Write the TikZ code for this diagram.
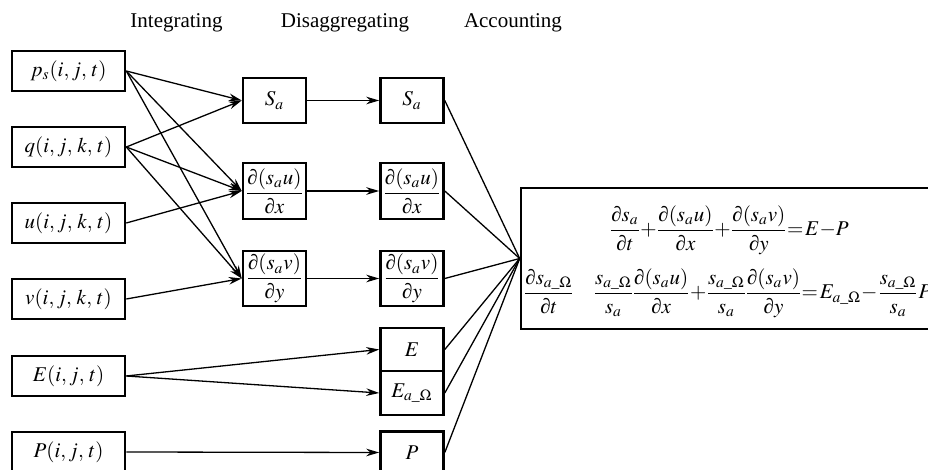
\documentclass[tikz,border=0pt]{standalone}
\usepackage{amsmath}
\usepackage{mathptmx}
\usepackage[no-math]{fontspec}
\setmainfont{Liberation Serif}
\usetikzlibrary{arrows.meta}
\newcommand{\tightsp}{\medmuskip=1.5mu\relax\thickmuskip=1.5mu\relax\nulldelimiterspace=0pt\relax}
\newcommand{\pd}{\mathord{\text{∂}}}
\begin{document}
\begin{tikzpicture}[x=0.5pt,y=-0.5pt,
  every node/.style={font=\fontsize{10.5}{12}\selectfont, inner sep=0pt},
  box/.style={draw, line width=1.3pt},
  lbox/.style={box, minimum width=56.5pt, minimum height=20pt},
  cbox/.style={box, minimum width=31.5pt},
  arr/.style={line width=0.65pt, -{Stealth[length=6.5pt,width=3.8pt]}},
  ln/.style={line width=0.65pt},
  hdr/.style={anchor=base}]
\useasboundingbox (0,0) rectangle (928,470);
\begin{scope}
\clip (0,0) rectangle (928,470);
% headers
\node[hdr] (h1) at (176.5,28) {Integrating};
\node[hdr] (h2) at (345,28) {Disaggregating};
\node[hdr] (h3) at (513,28) {Accounting};
% left column
\node[lbox] (ps) at (68.5,71) {$p_s(i,j,\,t)$};
\node[lbox] (q) at (68.5,147) {$q(i,j,\,k,\,t)$};
\node[lbox] (u) at (68.5,223) {$u(i,j,\,k,\,t)$};
\node[lbox] (v) at (68.5,299) {$v(i,j,\,k,\,t)$};
\node[lbox] (E) at (68.5,376) {$E(i,j,\,t)$};
\node[lbox] (P) at (68.5,452) {$P(i,j,\,t)$};
% middle column 1
\node[cbox, minimum height=22.5pt] (sa1) at (274.5,100.5) {$S_a$};
\node[cbox, minimum height=28pt] (dx1) at (274.5,191) {$\tightsp\dfrac{\pd(s_a u)}{\pd x}$};
\node[cbox, minimum height=27.5pt] (dy1) at (274.5,278.5) {$\tightsp\dfrac{\pd(s_a v)}{\pd y}$};
% middle column 2
\node[cbox, minimum height=22.5pt] (sa2) at (412,100.5) {$S_a$};
\node[cbox, minimum height=28pt] (dx2) at (412,191) {$\tightsp\dfrac{\pd(s_a u)}{\pd x}$};
\node[cbox, minimum height=27.5pt] (dy2) at (412,278.5) {$\tightsp\dfrac{\pd(s_a v)}{\pd y}$};
\node[cbox, minimum height=21.5pt] (e2) at (412,349.5) {$E$};
\node[cbox, minimum height=22pt] (ea2) at (412,393) {$E_{a\_\Omega}$};
\node[cbox, minimum height=21pt] (p2) at (412,452.5) {$P$};
% equation box
\node[box, minimum width=339.5pt, minimum height=70.5pt] (eq) at (860.5,258.5) {};
\node (eq1) at (730,230) {$\tightsp\dfrac{\pd s_a}{\pd t}+\dfrac{\pd(s_a u)}{\pd x}+\dfrac{\pd(s_a v)}{\pd y}=E{-}P$};
\node[anchor=west] (eq2) at (525,293) {$\tightsp\dfrac{\pd s_{a\_\Omega}}{\pd t}\quad\;\dfrac{s_{a\_\Omega}}{s_a}\,\dfrac{\pd(s_a u)}{\pd x}+\dfrac{s_{a\_\Omega}}{s_a}\,\dfrac{\pd(s_a v)}{\pd y}=E_{a\_\Omega}{-}\,\dfrac{s_{a\_\Omega}}{s_a}\,P$};
% integrating arrows
\draw[arr] (ps.east) -- (sa1.west);
\draw[arr] (ps.east) -- (dx1.west);
\draw[arr] (ps.east) -- (dy1.west);
\draw[arr] (q.east) -- (sa1.west);
\draw[arr] (q.east) -- (dx1.west);
\draw[arr] (q.east) -- (dy1.west);
\draw[arr] (u.east) -- (dx1.west);
\draw[arr] (v.east) -- (dy1.west);
% disaggregating arrows
\draw[arr] (sa1.east) -- (sa2.west);
\draw[arr] (dx1.east) -- (dx2.west);
\draw[arr] (dy1.east) -- (dy2.west);
\draw[arr] (E.east) -- (e2.west);
\draw[arr] (E.east) -- (ea2.west);
\draw[arr] (P.east) -- (p2.west);
% accounting lines
\foreach \n in {sa2,dx2,dy2,e2,ea2,p2}
  \draw[ln] (\n.east) -- (eq.west);
\end{scope}
\end{tikzpicture}
\end{document}
